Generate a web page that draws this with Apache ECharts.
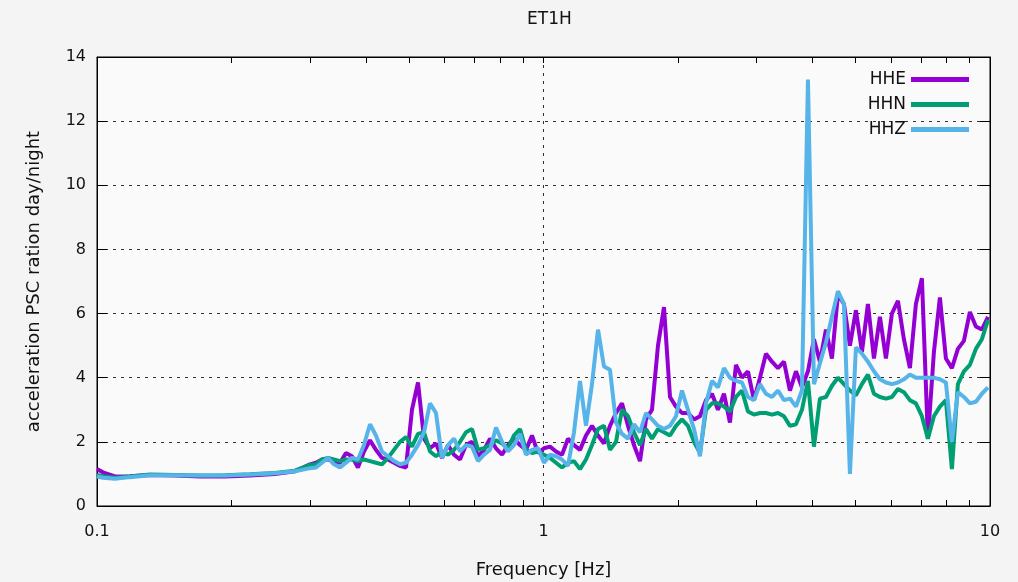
<!DOCTYPE html>
<html><head><meta charset="utf-8">
<script src="https://cdn.jsdelivr.net/npm/echarts@6/dist/echarts.min.js"></script>
<style>html,body{margin:0;padding:0;background:#f4f4f4}#c{width:1018px;height:582px}</style>
</head><body><div id="c"></div>
<script>
// Frequencies [Hz] (shared sampling of the three curves)
const freq = [
  0.1, 0.1031, 0.1097, 0.1186, 0.1314, 0.1495, 0.1701, 0.1935, 0.2202, 0.2504, 0.2776, 0.2999,
  0.3093, 0.3190, 0.3291, 0.3394, 0.3501, 0.3611, 0.3724, 0.3841, 0.3962, 0.4087,
  0.4215, 0.4347, 0.4484, 0.4625, 0.4771, 0.4921, 0.5075, 0.5235, 0.5400, 0.5569,
  0.5744, 0.5925, 0.6111, 0.6303, 0.6501, 0.6706, 0.6916, 0.7134, 0.7358, 0.7589,
  0.7828, 0.8074, 0.8327, 0.8589, 0.8859, 0.9137, 0.9424, 0.9720, 1.0026, 1.0341,
  1.0666, 1.1001, 1.1347, 1.1703, 1.2071, 1.2450, 1.2841, 1.3245, 1.3661, 1.4090,
  1.4533, 1.4990, 1.5461, 1.5946, 1.6447, 1.6964, 1.7498, 1.8047, 1.8614, 1.9199,
  1.9802, 2.0425, 2.1066, 2.1728, 2.2411, 2.3115, 2.3841, 2.4590, 2.5363, 2.6159,
  2.6981, 2.7829, 2.8703, 2.9605, 3.0535, 3.1494, 3.2484, 3.3504, 3.4557, 3.5642,
  3.6762, 3.7917, 3.9108, 4.0337, 4.1604, 4.2911, 4.4259, 4.5649, 4.7084, 4.8563,
  5.0088, 5.1662, 5.3285, 5.4959, 5.6685, 5.8466, 6.0303, 6.2197, 6.4151, 6.6167,
  6.8245, 7.0389, 7.2600, 7.4881, 7.7233, 7.9660, 8.2162, 8.4743, 8.7406, 9.0152,
  9.2984, 9.5905, 9.8974
];
const hhe = [
  1.15, 1.05, 0.92, 0.93, 0.97, 0.95, 0.92, 0.92, 0.95, 1.0, 1.08, 1.3,
  1.35, 1.45, 1.45, 1.4, 1.35, 1.65, 1.55, 1.2, 1.7, 2.05,
  1.75, 1.5, 1.45, 1.35, 1.25, 1.2, 3.0, 3.85, 2.1, 1.8,
  1.95, 1.5, 1.9, 1.6, 1.45, 1.9, 2.0, 1.55, 1.75, 2.1,
  1.8, 1.6, 1.9, 2.1, 1.9, 1.75, 2.2, 1.65, 1.8, 1.85,
  1.7, 1.6, 2.1, 1.9, 1.75, 2.2, 2.5, 2.2, 1.95, 2.5,
  2.9, 3.2, 2.5, 1.9, 1.4, 2.7, 3.0, 5.0, 6.2, 3.4,
  3.1, 2.9, 2.9, 2.7, 2.8, 3.3, 3.5, 3.0, 3.5, 2.6,
  4.4, 4.0, 4.2, 3.3, 4.0, 4.75, 4.5, 4.3, 4.5, 3.6,
  4.2, 3.7, 4.2, 5.2, 4.5, 5.5, 4.6, 6.6, 6.3, 5.0,
  6.1, 4.8, 6.3, 4.6, 5.9, 4.6, 6.0, 6.4, 5.2, 4.3,
  6.3, 7.1, 2.1, 4.8, 6.5, 4.6, 4.3, 4.9, 5.15, 6.05,
  5.6, 5.5, 5.9
];
const hhn = [
  0.97, 0.93, 0.88, 0.92, 0.98, 0.97, 0.95, 0.96, 0.99, 1.03, 1.1, 1.28,
  1.3, 1.45, 1.5, 1.45, 1.4, 1.45, 1.45, 1.4, 1.45, 1.4,
  1.35, 1.3, 1.5, 1.75, 2.0, 2.15, 1.85, 2.25, 2.3, 1.7,
  1.55, 1.7, 1.6, 1.75, 2.0, 2.3, 2.4, 1.75, 1.8, 1.9,
  2.05, 1.95, 1.8, 2.2, 2.4, 1.75, 1.65, 1.7, 1.6, 1.5,
  1.35, 1.2, 1.35, 1.4, 1.15, 1.45, 1.9, 2.4, 2.5, 1.75,
  2.0, 3.0, 2.8, 2.3, 1.9, 2.4, 2.1, 2.4, 2.3, 2.2,
  2.5, 2.7, 2.5, 2.0, 1.65, 3.0, 3.2, 3.2, 3.1, 2.95,
  3.4, 3.6, 2.95, 2.85, 2.9, 2.9, 2.85, 2.9, 2.8, 2.5,
  2.55, 3.0, 3.9, 1.85, 3.35, 3.4, 3.75, 4.0, 3.8, 3.6,
  3.45, 3.8, 4.1, 3.5, 3.4, 3.35, 3.4, 3.65, 3.55, 3.3,
  3.2, 2.8, 2.1, 2.8, 3.1, 3.3, 1.15, 3.8, 4.2, 4.4,
  4.9, 5.2, 5.8
];
const hhz = [
  0.92, 0.88, 0.85, 0.9, 0.96, 0.96, 0.95, 0.95, 0.98, 1.02, 1.08, 1.18,
  1.2, 1.35, 1.5, 1.3, 1.2, 1.35, 1.5, 1.45, 1.9, 2.55,
  2.2, 1.7, 1.55, 1.4, 1.3, 1.35, 1.6, 1.9, 2.3, 3.2,
  2.9, 1.5, 1.9, 2.1, 1.7, 1.9, 1.85, 1.4, 1.6, 1.75,
  2.45, 2.0, 1.7, 1.9, 2.25, 1.6, 1.75, 1.8, 1.35, 1.6,
  1.55, 1.45, 1.25, 2.3, 3.9, 2.5, 3.8, 5.5, 4.35, 4.25,
  2.6, 2.25, 2.1, 2.55, 2.3, 2.9, 2.7, 2.5, 2.4, 2.5,
  2.8, 3.6, 3.0, 2.4, 1.55, 3.2, 3.9, 3.7, 4.3, 4.0,
  3.9, 3.85, 3.4, 3.3, 3.8, 3.5, 3.4, 3.6, 3.3, 3.35,
  3.1, 3.6, 13.3, 3.8, 4.45, 5.1, 5.9, 6.7, 6.3, 1.0,
  4.95, 4.75, 4.5, 4.2, 3.95, 3.85, 3.8, 3.85, 3.95, 4.1,
  4.0, 4.0, 4.0, 4.0, 3.95, 3.85, 2.0, 3.55, 3.4, 3.2,
  3.25, 3.5, 3.7
];
const seriesNames = ['HHE', 'HHN', 'HHZ'];
const xLabelValues = [0.1, 1, 10];
const xTickValues = [0.1, 0.2, 0.3, 0.4, 0.5, 0.6, 0.7, 0.8, 0.9, 1, 2, 3, 4, 5, 6, 7, 8, 9, 10];

const FONT = 'DejaVu Sans';
const colors = ['#9400d3', '#009e73', '#56b4e9'];
const pair = vals => freq.map((f, i) => [f, vals[i]]);
const dataSets = [hhe, hhn, hhz];

const chart = echarts.init(document.getElementById('c'), null, {renderer: 'canvas'});
const baseX = {
  type: 'log', logBase: 10, min: 0.1, max: 10,
  axisLine: {show: true, onZero: false, lineStyle: {color: '#000', width: 1}},
  axisTick: {show: true, inside: true, length: 6, customValues: xTickValues, lineStyle: {color: '#000'}}
};
const baseY = {
  type: 'value', min: 0, max: 14, interval: 2,
  axisLine: {show: true, lineStyle: {color: '#000', width: 1}},
  axisTick: {show: true, inside: true, length: 10, lineStyle: {color: '#000'}}
};
chart.setOption({
  animation: false,
  backgroundColor: '#f4f4f4',
  title: {
    text: 'ET1H', left: 522, top: 6,
    textStyle: {fontFamily: FONT, fontSize: 17, fontWeight: 'normal', color: '#111'}
  },
  grid: {
    left: 97, right: 28, top: 57, bottom: 76, outerBoundsMode: 'none', containLabel: false,
    show: true, backgroundColor: '#fafafa', borderColor: '#000', borderWidth: 1
  },
  legend: {
    data: seriesNames, orient: 'vertical', align: 'right', right: 44, top: 66,
    icon: 'rect', itemWidth: 58, itemHeight: 5, itemGap: 8,
    textStyle: {fontFamily: FONT, fontSize: 17, color: '#111'}
  },
  xAxis: [
    Object.assign({}, baseX, {
      position: 'bottom',
      axisLabel: {show: true, margin: 18, customValues: xLabelValues, formatter: v => String(v), fontFamily: FONT, fontSize: 16, color: '#111'},
      splitLine: {show: false},
      name: 'Frequency [Hz]', nameLocation: 'middle', nameGap: 55,
      nameTextStyle: {fontFamily: FONT, fontSize: 18, color: '#111'}
    }),
    Object.assign({}, baseX, {position: 'top', axisLabel: {show: false}, splitLine: {show: false}}),
    {
      type: 'log', logBase: 10, min: 0.1, max: 10, position: 'bottom',
      axisLine: {show: false}, axisTick: {show: false}, axisLabel: {show: false},
      splitLine: {show: true, lineStyle: {type: [3, 5], color: '#333', width: 1}}
    }
  ],
  yAxis: [
    Object.assign({}, baseY, {
      position: 'left',
      axisLabel: {margin: 11, fontFamily: FONT, fontSize: 16, color: '#111'},
      splitLine: {show: true, lineStyle: {type: [3, 5], color: '#333', width: 1}},
      name: 'acceleration PSC ration day/night', nameLocation: 'middle', nameGap: 54, nameRotate: 90,
      nameTextStyle: {fontFamily: FONT, fontSize: 18, color: '#111'}
    }),
    Object.assign({}, baseY, {position: 'right', axisLabel: {show: false}, splitLine: {show: false}})
  ],
  series: seriesNames.map((n, i) => ({
    name: n, type: 'line', xAxisIndex: 0, yAxisIndex: 0,
    data: pair(dataSets[i]), showSymbol: false, symbol: 'none',
    lineStyle: {width: 4, color: colors[i]}, itemStyle: {color: colors[i]},
    emphasis: {disabled: true}
  }))
});
</script>
</body></html>
